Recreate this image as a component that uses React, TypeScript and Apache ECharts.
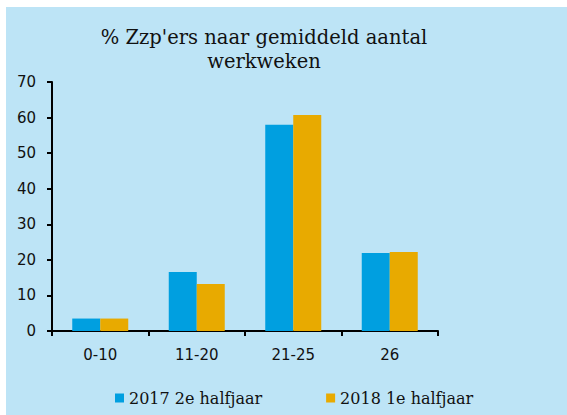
import React, { useEffect, useRef } from "react";
import * as echarts from "echarts";

const categories = ["0-10", "11-20", "21-25", "26"];
const series2017 = [3.5, 16.6, 58.0, 21.9];
const series2018 = [3.5, 13.2, 60.7, 22.2];
const seriesNames = ["2017 2e halfjaar", "2018 1e halfjaar"];
const titleLines = ["% Zzp'ers naar gemiddeld aantal", "werkweken"];

export default function App() {
  const ref = useRef<HTMLDivElement>(null);
  useEffect(() => {
    if (!ref.current) return;
    const chart = echarts.init(ref.current, undefined, { renderer: "svg" });
    chart.setOption({
      animation: false,
      backgroundColor: "#bde4f6",
      graphic: [
        {
          type: "text",
          x: 258,
          y: 18,
          style: {
            text: titleLines.join("\n"),
            font: "19.5px 'DejaVu Serif'",
            lineHeight: 24,
            fill: "#111",
            textAlign: "center",
          },
        },
      ],
      grid: { left: 46, top: 75, width: 386, height: 249, containLabel: false },
      legend: {
        data: seriesNames,
        left: 104,
        top: 378,
        itemWidth: 9,
        itemHeight: 9,
        itemGap: 64,
        icon: "rect",
        textStyle: { fontFamily: "DejaVu Serif", fontSize: 16, color: "#111" },
      },
      xAxis: {
        type: "category",
        data: categories,
        axisLine: { lineStyle: { color: "#000", width: 2 } },
        axisTick: { show: true, length: 5, alignWithLabel: false, lineStyle: { color: "#000", width: 2 } },
        axisLabel: { fontFamily: "DejaVu Sans", fontSize: 15, color: "#111", margin: 16 },
      },
      yAxis: {
        type: "value",
        min: 0,
        max: 70,
        interval: 10,
        splitLine: { show: false },
        axisLine: { show: true, lineStyle: { color: "#000", width: 2 } },
        axisTick: { show: true, length: 5, lineStyle: { color: "#000", width: 2 } },
        axisLabel: { fontFamily: "DejaVu Sans", fontSize: 15, color: "#111", margin: 16 },
      },
      series: [
        {
          name: seriesNames[0],
          type: "bar",
          data: series2017,
          barWidth: 28,
          barGap: "0%",
          itemStyle: { color: "#009fe0" },
        },
        {
          name: seriesNames[1],
          type: "bar",
          data: series2018,
          barWidth: 28,
          barGap: "0%",
          itemStyle: { color: "#e8aa00" },
        },
      ],
    });
    return () => chart.dispose();
  }, []);
  return (
    <div style={{ position: "fixed", left: 0, top: 0, width: 567, height: 415, background: "#fff" }}>
      <div ref={ref} style={{ position: "absolute", left: 6, top: 7, width: 561, height: 408 }} />
    </div>
  );
}
